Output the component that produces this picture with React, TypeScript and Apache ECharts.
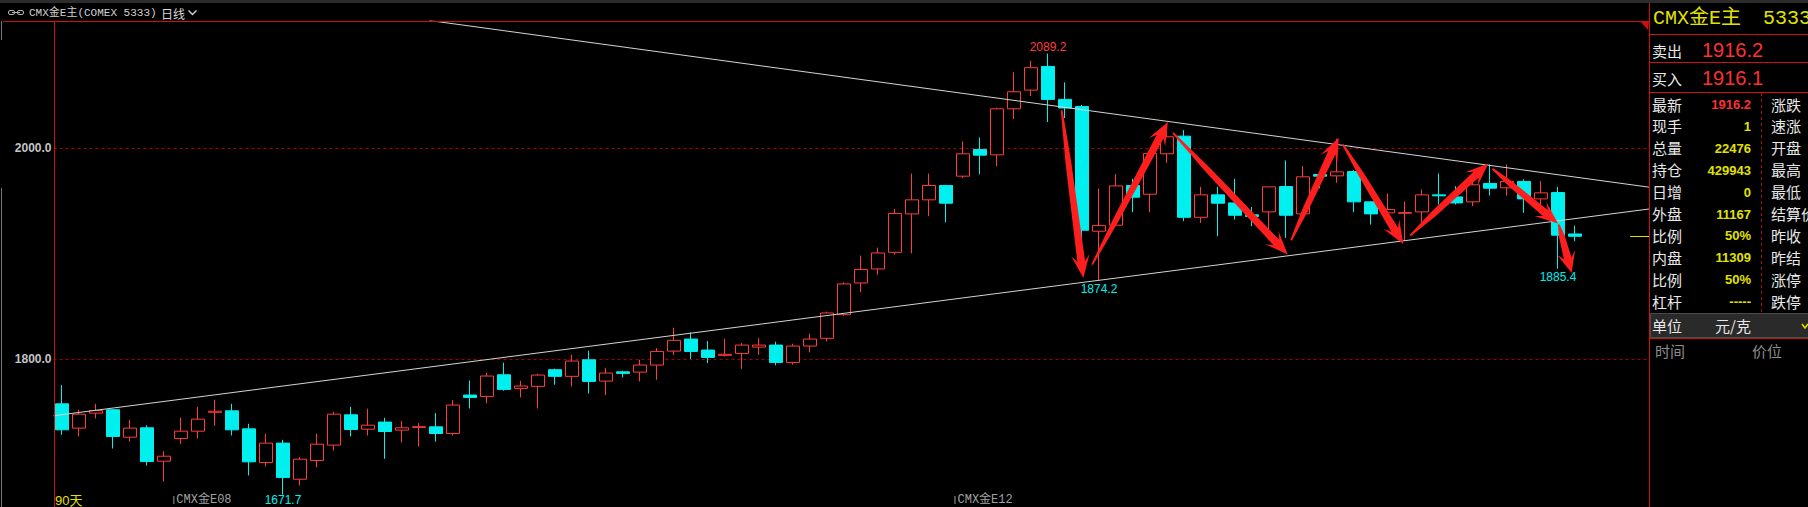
import React, { useEffect, useRef } from 'react';
import * as echarts from 'echarts';

// ---------- data ----------
const OPEN = [1757.6, 1734.6, 1748.8, 1752.0, 1726.0, 1734.9, 1703.3, 1724.8, 1731.7, 1749.6,
  1751.0, 1733.9, 1702.0, 1720.4, 1686.2, 1703.9, 1718.5, 1747.2, 1733.6, 1740.3,
  1732.7, 1735.3, 1735.8, 1729.5, 1765.9, 1764.6, 1785.1, 1772.2, 1774.1, 1789.9,
  1783.6, 1799.3, 1779.1, 1787.9, 1787.6, 1794.3, 1807.5, 1818.9, 1808.5, 1803.5,
  1805.3, 1811.3, 1813.2, 1796.8, 1812.3, 1819.6, 1842.0, 1872.0, 1885.3, 1901.0,
  1937.4, 1950.7, 1964.3, 1973.1, 1998.4, 1993.3, 2036.9, 2054.6, 2077.0, 2045.8,
  2039.1, 1921.0, 1926.7, 1964.3, 1956.0, 1994.3, 2011.0, 1934.2, 1955.4, 1947.8,
  1936.5, 1939.3, 1963.3, 1937.4, 1974.7, 1973.4, 1977.5, 1948.8, 1938.4, 1938.0,
  1939.3, 1955.4, 1953.5, 1948.8, 1966.2, 1962.1, 1968.1, 1951.6, 1957.6, 1918.4];
const CLOSE = [1733.0, 1747.8, 1751.3, 1726.7, 1734.6, 1703.0, 1708.0, 1731.7, 1743.1, 1750.6,
  1733.0, 1702.7, 1720.4, 1687.8, 1705.2, 1719.4, 1747.8, 1733.3, 1737.4, 1731.4,
  1734.9, 1735.9, 1729.5, 1756.4, 1763.6, 1783.9, 1771.2, 1774.4, 1784.8, 1783.6,
  1798.1, 1778.8, 1786.7, 1786.4, 1794.3, 1807.2, 1817.7, 1807.2, 1801.5, 1804.5,
  1813.2, 1813.2, 1796.8, 1812.3, 1818.9, 1843.6, 1871.1, 1884.7, 1900.4, 1937.7,
  1950.7, 1964.3, 1947.5, 1994.3, 1993.0, 2036.9, 2053.0, 2075.8, 2045.8, 2037.6,
  1921.9, 1926.3, 1963.9, 1953.2, 1994.6, 2010.4, 1934.2, 1955.4, 1947.5, 1936.1,
  1934.9, 1963.0, 1936.1, 1972.5, 1973.1, 1977.2, 1948.8, 1937.4, 1941.5, 1938.6,
  1955.4, 1954.5, 1947.8, 1964.9, 1961.7, 1968.1, 1951.6, 1957.3, 1917.2, 1916.2];
const LOW = [1728.3, 1726.7, 1743.7, 1715.3, 1721.9, 1699.2, 1684.0, 1719.7, 1724.8, 1736.8,
  1727.6, 1689.7, 1698.2, 1671.7, 1680.2, 1697.3, 1713.4, 1726.7, 1727.6, 1705.5,
  1721.0, 1717.2, 1721.9, 1727.6, 1753.2, 1758.0, 1770.0, 1763.6, 1753.2, 1775.7,
  1774.1, 1767.4, 1765.8, 1782.6, 1778.8, 1780.4, 1803.8, 1800.0, 1796.2, 1802.4,
  1790.8, 1803.8, 1794.0, 1794.6, 1806.3, 1816.7, 1841.0, 1863.2, 1879.9, 1898.9,
  1900.1, 1935.2, 1929.5, 1971.2, 1975.0, 1982.6, 2027.1, 2048.9, 2024.3, 2028.1,
  1911.5, 1874.2, 1925.8, 1939.0, 1939.0, 1985.7, 1930.5, 1928.9, 1916.2, 1932.0,
  1925.7, 1913.1, 1914.7, 1932.0, 1961.7, 1966.8, 1939.0, 1927.3, 1928.9, 1912.1,
  1929.5, 1946.3, 1946.3, 1944.7, 1954.8, 1954.8, 1938.4, 1944.7, 1885.4, 1911.5];
const HIGH = [1775.3, 1752.0, 1757.6, 1752.5, 1742.5, 1737.4, 1712.8, 1744.4, 1754.8, 1761.4,
  1757.6, 1738.7, 1729.2, 1723.5, 1707.1, 1729.2, 1750.1, 1754.8, 1752.9, 1744.4,
  1741.5, 1739.3, 1748.8, 1761.1, 1779.8, 1787.0, 1796.5, 1779.4, 1786.1, 1790.8,
  1804.1, 1807.9, 1791.7, 1788.9, 1799.3, 1810.4, 1829.7, 1825.2, 1817.0, 1819.2,
  1815.1, 1819.8, 1816.4, 1814.5, 1824.0, 1844.9, 1872.7, 1897.9, 1905.5, 1942.1,
  1975.6, 1975.6, 1964.9, 2006.0, 2009.8, 2037.9, 2071.4, 2082.4, 2089.2, 2061.9,
  2040.7, 1961.4, 1975.0, 1970.6, 1995.0, 2015.4, 2016.7, 1963.0, 1963.0, 1970.6,
  1944.0, 1963.2, 1988.0, 1982.6, 1974.9, 2008.5, 1978.8, 1949.0, 1956.7, 1949.1,
  1960.5, 1975.6, 1963.6, 1973.1, 1984.2, 1984.2, 1970.0, 1968.4, 1963.0, 1926.3];

// trend lines (candle index, price)
const UPPER_TREND = [[21.6, 2120.5], [93.35, 1962.7]];
const LOWER_TREND = [[-0.5, 1746.3], [93.35, 1942.0]];

// hand-drawn arrows: [tailIndex, tailPrice, tipIndex, tipPrice]
const ARROWS = [
  [58.8, 2035.6, 60.08, 1876.8],
  [60.6, 1889.4, 65.05, 2024.3],
  [65.35, 2014.2, 72.1, 1898.9],
  [72.3, 1912.4, 75.1, 2009.5],
  [75.35, 2003.1, 78.9, 1909.0],
  [79.3, 1916.9, 83.9, 1985.1],
  [84.15, 1980.1, 88.0, 1928.2],
  [88.04, 1927.3, 88.8, 1881.5],
];

// extreme labels
const EXT_INDEX = [58, 61, 88, 13];
const EXT_VALUE = [2089.2, 1874.2, 1885.4, 1671.7];
const EXT_SIDE = ['high', 'low', 'low', 'low'];

// contract switch markers
const CONTRACT_INDEX = [6.55, 52.5];
const CONTRACT_TEXT = ['CMX金E08', 'CMX金E12'];

const LAST_PRICE = 1916.2;
const Y_LABELS = [1800, 2000];

// quote panel
const SELL_PRICE = '1916.2';
const BUY_PRICE = '1916.1';
const QUOTE_LEFT = ['最新', '现手', '总量', '持仓', '日增', '外盘', '比例', '内盘', '比例', '杠杆'];
const QUOTE_VALUES = ['1916.2', '1', '22476', '429943', '0', '11167', '50%', '11309', '50%', '-----'];
const QUOTE_RIGHT = ['涨跌', '速涨', '开盘', '最高', '最低', '结算价', '昨收', '昨结', '涨停', '跌停'];

// ---------- layout ----------
const W = 1808;
const H = 507;
const GRID_LEFT = 53.5;
const GRID_RIGHT_X = 1649;
const STEP = 17;
const X_MIN = -0.5;
const X_MAX = X_MIN + (GRID_RIGHT_X - GRID_LEFT) / STEP;

const RED = '#ff3c3c';
const CYAN = '#00f0f0';
const YELLOW = '#e2e200';
const FRAME_RED = '#d01010';
const CJK = '"Noto Sans CJK SC"';

function arrowPoints(a: number[], b: number[]) {
  const dx = b[0] - a[0];
  const dy = b[1] - a[1];
  const len = Math.hypot(dx, dy) || 1;
  const ux = dx / len, uy = dy / len;
  const nx = -uy, ny = ux;
  const headLen = Math.min(23, len * 0.42);
  const headHalf = 9.2;
  const neckHalf = 3.9;
  const midHalf = 2.9;
  const tailHalf = 0.9;
  const bx = b[0] - ux * headLen, by = b[1] - uy * headLen;
  const kx = b[0] - ux * headLen * 0.72, ky = b[1] - uy * headLen * 0.72;
  const shaft = len - headLen * 0.72;
  const mx = a[0] + ux * shaft * 0.35, my = a[1] + uy * shaft * 0.35;
  return [
    [a[0] + nx * tailHalf, a[1] + ny * tailHalf],
    [mx + nx * midHalf, my + ny * midHalf],
    [kx + nx * neckHalf, ky + ny * neckHalf],
    [bx + nx * headHalf, by + ny * headHalf],
    [b[0], b[1]],
    [bx - nx * headHalf, by - ny * headHalf],
    [kx - nx * neckHalf, ky - ny * neckHalf],
    [mx - nx * midHalf, my - ny * midHalf],
    [a[0] - nx * tailHalf, a[1] - ny * tailHalf],
  ];
}

function txt(x: number, y: number, text: string, fill: string, font: string, align = 'left') {
  return { type: 'text', x, y, silent: true, z: 100, style: { text, fill, font, align, verticalAlign: 'middle' } };
}
function hline(x1: number, x2: number, y: number, stroke: string, dash?: number[]) {
  return { type: 'line', silent: true, z: 100, shape: { x1, y1: y, x2, y2: y }, style: { stroke, lineWidth: 1, lineDash: dash } };
}
function vline(x: number, y1: number, y2: number, stroke: string, dash?: number[]) {
  return { type: 'line', silent: true, z: 100, shape: { x1: x, y1, x2: x, y2 }, style: { stroke, lineWidth: 1, lineDash: dash } };
}

function buildGraphic() {
  const g: any[] = [];
  // top strip + title bar
  g.push({ type: 'rect', silent: true, z: 99, shape: { x: 0, y: 0, width: W, height: 3 }, style: { fill: '#2c2c2c' } });
  g.push({ type: 'rect', silent: true, z: 100, shape: { x: 8.5, y: 10.5, width: 6, height: 4, r: 1.5 }, style: { fill: 'none', stroke: '#b0b0b0', lineWidth: 1 } });
  g.push({ type: 'rect', silent: true, z: 100, shape: { x: 17.5, y: 10.5, width: 6, height: 4, r: 1.5 }, style: { fill: 'none', stroke: '#b0b0b0', lineWidth: 1 } });
  g.push(hline(12, 20, 12.5, '#b0b0b0'));
  g.push(txt(29, 13, 'CMX金E主(COMEX 5333)', '#d0d0d0', `11px "Liberation Mono", ${CJK}`));
  g.push(txt(161, 13, '日线', '#d8d8d8', `12px ${CJK}`));
  g.push({ type: 'polyline', silent: true, z: 100, shape: { points: [[188.5, 10.5], [192.5, 14.5], [196.5, 10.5]] }, style: { stroke: '#d0d0d0', lineWidth: 1.4, fill: 'none' } });

  // frame
  g.push(hline(3, GRID_RIGHT_X, 21.5, FRAME_RED));
  g.push(vline(54.5, 21, H, FRAME_RED));
  g.push(vline(1649.5, 3, H, FRAME_RED));
  g.push(vline(1.5, 21, 40, '#777'));
  g.push(vline(1.5, 188, H, '#777'));
  g.push({ type: 'polygon', silent: true, z: 100, shape: { points: [[1640, 21], [1649, 21], [1648, 30]] }, style: { fill: FRAME_RED } });

  // bottom texts
  g.push(txt(55, 500, '90天', YELLOW, `13px "Liberation Sans", ${CJK}`));

  // quote panel
  const PX = 1652;
  g.push(txt(1653, 18, 'CMX金E主', YELLOW, `20px "Liberation Mono", ${CJK}`));
  g.push(txt(1763, 18, '5333', YELLOW, `20px "Liberation Mono"`));
  g.push(hline(1649, W, 34.5, FRAME_RED));
  g.push(txt(PX, 50, '卖出', '#e8e8e8', `15px ${CJK}`));
  g.push(txt(1702, 50, SELL_PRICE, '#ff3030', `20px "Liberation Sans"`));
  g.push(hline(1649, W, 62.5, FRAME_RED));
  g.push(txt(PX, 78, '买入', '#e8e8e8', `15px ${CJK}`));
  g.push(txt(1702, 78, BUY_PRICE, '#ff3030', `20px "Liberation Sans"`));
  g.push(hline(1649, W, 92.5, FRAME_RED));
  QUOTE_LEFT.forEach((lab, k) => {
    const y = 104 + 21.9 * k;
    g.push(txt(PX, y, lab, '#e8e8e8', `15px ${CJK}`));
    g.push(txt(1751, y + 0.5, QUOTE_VALUES[k], k === 0 ? '#ff3030' : YELLOW, `bold 13px "Liberation Sans"`, 'right'));
    g.push(txt(1771, y, QUOTE_RIGHT[k], '#e8e8e8', `15px ${CJK}`));
  });
  g.push(vline(1761.5, 93, 312, '#b01010', [3, 3]));
  g.push({ type: 'rect', silent: true, z: 99, shape: { x: 1650.5, y: 313.5, width: 160, height: 24 }, style: { fill: '#2a2a2a', stroke: '#4a4a4a', lineWidth: 1 } });
  g.push(txt(PX, 325.5, '单位', '#e8e8e8', `15px ${CJK}`));
  g.push(txt(1715, 325.5, '元/克', '#e8e8e8', `15px ${CJK}`));
  g.push({ type: 'polyline', silent: true, z: 100, shape: { points: [[1802, 324], [1805, 328], [1808, 324]] }, style: { stroke: YELLOW, lineWidth: 1.5, fill: 'none' } });
  g.push(hline(1649, W, 338.5, FRAME_RED));
  g.push(txt(1655, 350, '时间', '#8c8c8c', `15px ${CJK}`));
  g.push(txt(1752, 350, '价位', '#8c8c8c', `15px ${CJK}`));
  return g;
}

export default function App() {
  const ref = useRef<HTMLDivElement>(null);
  useEffect(() => {
    document.body.style.margin = '0';
    document.body.style.background = '#000';
    if (!ref.current) return;
    const chart = echarts.init(ref.current, undefined, { renderer: 'svg' });
    const candleData = OPEN.map((o, i) => [i, o, CLOSE[i], LOW[i], HIGH[i]]);
    const option: any = {
      animation: false,
      backgroundColor: '#000',
      grid: {
        left: GRID_LEFT,
        right: W - GRID_RIGHT_X,
        top: 21,
        bottom: -63.3,
        outerBoundsMode: 'none',
      },
      xAxis: {
        type: 'value',
        min: X_MIN,
        max: X_MAX,
        axisLine: { show: false },
        axisTick: { show: false },
        axisLabel: { show: false },
        splitLine: { show: false },
      },
      yAxis: {
        type: 'value',
        min: 1600,
        max: 2120,
        interval: 200,
        axisLine: { show: false },
        axisTick: { show: false },
        axisLabel: {
          margin: 2,
          color: '#c4c4c4',
          fontSize: 12,
          fontWeight: 'bold',
          fontFamily: 'Liberation Sans',
          formatter: (v: number) => (Y_LABELS.indexOf(v) >= 0 ? v.toFixed(1) : ''),
        },
        splitLine: { show: true, lineStyle: { color: '#a00000', type: [3, 3], width: 1 } },
      },
      series: [
        {
          type: 'candlestick',
          data: candleData,
          encode: { x: 0, y: [1, 2, 3, 4] },
          barWidth: 14,
          silent: true,
          itemStyle: {
            color: '#000000',
            color0: CYAN,
            borderColor: RED,
            borderColor0: CYAN,
            borderWidth: 1,
          },
          markLine: {
            silent: true,
            symbol: ['none', 'none'],
            label: { show: false },
            lineStyle: { color: YELLOW, width: 1, type: 'solid' },
            data: [[{ coord: [92.24, LAST_PRICE] }, { coord: [X_MAX, LAST_PRICE] }]],
          },
          z: 2,
        },
        {
          type: 'line',
          data: UPPER_TREND,
          symbol: 'none',
          silent: true,
          lineStyle: { color: '#d4d4d4', width: 1 },
          z: 3,
        },
        {
          type: 'line',
          data: LOWER_TREND,
          symbol: 'none',
          silent: true,
          lineStyle: { color: '#d4d4d4', width: 1 },
          z: 3,
        },
        {
          type: 'custom',
          data: ARROWS,
          encode: { x: [0, 2], y: [1, 3] },
          silent: true,
          z: 5,
          renderItem: (params: any, api: any) => {
            const a = api.coord([api.value(0), api.value(1)]);
            const b = api.coord([api.value(2), api.value(3)]);
            return {
              type: 'polygon',
              shape: { points: arrowPoints(a, b) },
              style: { fill: '#ff1e1e' },
            };
          },
        },
        {
          type: 'custom',
          data: EXT_INDEX.map((i, k) => [i, EXT_VALUE[k]]),
          silent: true,
          z: 6,
          renderItem: (params: any, api: any) => {
            const k = params.dataIndex;
            const p = api.coord([api.value(0), api.value(1)]);
            const high = EXT_SIDE[k] === 'high';
            return {
              type: 'text',
              x: p[0],
              y: high ? p[1] - 7 : Math.min(p[1] + 8.5, 500),
              style: {
                text: EXT_VALUE[k].toFixed(1),
                fill: high ? RED : CYAN,
                font: '12px "Liberation Sans"',
                align: 'center',
                verticalAlign: 'middle',
              },
            };
          },
        },
        {
          type: 'custom',
          data: CONTRACT_INDEX.map((i) => [i, LAST_PRICE]),
          silent: true,
          z: 6,
          renderItem: (params: any, api: any) => {
            const k = params.dataIndex;
            const p = api.coord([api.value(0), api.value(1)]);
            return {
              type: 'group',
              children: [
                { type: 'line', shape: { x1: p[0] + 0.5, y1: 496, x2: p[0] + 0.5, y2: 504 }, style: { stroke: '#9a9a9a', lineWidth: 1 } },
                {
                  type: 'text',
                  x: p[0] + 3,
                  y: 500,
                  style: { text: CONTRACT_TEXT[k], fill: '#a0a0a0', font: `12px "Liberation Mono", ${CJK}`, align: 'left', verticalAlign: 'middle' },
                },
              ],
            };
          },
        },
      ],
      graphic: buildGraphic(),
    };
    chart.setOption(option);
    return () => chart.dispose();
  }, []);
  return <div ref={ref} style={{ width: W, height: H, overflow: 'hidden', background: '#000' }} />;
}
